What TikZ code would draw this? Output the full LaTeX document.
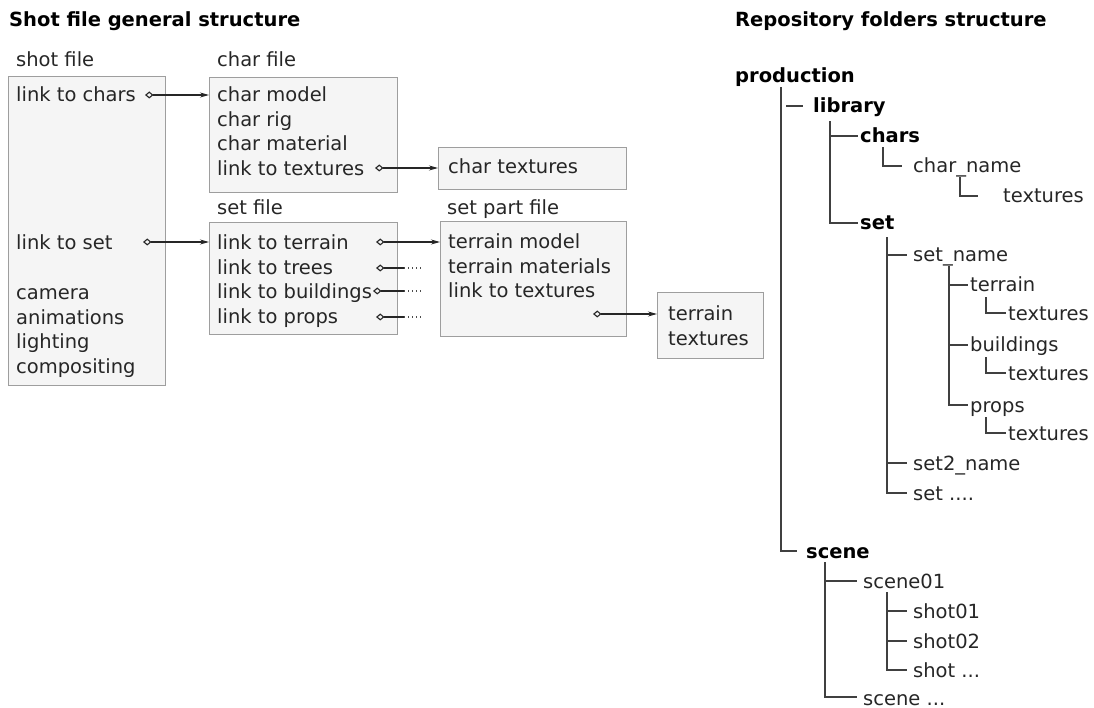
\documentclass[tikz,border=0pt]{standalone}
\usepackage{fontspec}
\setmainfont{DejaVu Sans}
\usepackage{tikz}
\usetikzlibrary{arrows.meta}
\usetikzlibrary{math}

\tikzset{
    txt/.style={anchor=west, inner sep=0pt, text height=14pt, text depth=4pt,
        text=black!85, font=\fontsize{19.5}{24}\selectfont},
    bold/.style={txt, text=black, font=\fontsize{19.5}{24}\selectfont\bfseries},
    filebox/.style={draw=black!38, fill=black!4, line width=1.2pt, anchor=north west, inner sep=0pt},
    link/.style={line width=1.1pt, black!85, {Diamond[open,length=8.5pt,width=7pt]}-{Stealth[length=9pt,width=5pt]}},
    stub/.style={line width=1.1pt, black!85, {Diamond[open,length=8.5pt,width=7pt]}-},
    dots/.style={line width=1.1pt, black!70, dash pattern=on 1.4pt off 2.6pt},
    branch/.style={line width=1.6pt, black!75},
}

\begin{document}
\begin{tikzpicture}[x=1pt, y=-1pt]
    \useasboundingbox (0,0) rectangle (1094,708);
    \tikzmath{%
        \ls = 24.4;   %% 行距
        \lx = 217;    %% 中间一列文字的左边
    };
    %% 两个标题
    \node[bold] (lefttitle) at (9,22) {Shot file general structure};
    \node[bold] (righttitle) at (735,22) {Repository folders structure};

    %% 文件框
    \node[filebox, minimum width=157pt, minimum height=309pt] (shotbox) at (8,76) {};
    \node[filebox, minimum width=188pt, minimum height=115pt] (charbox) at (209,77) {};
    \node[filebox, minimum width=188pt, minimum height=42pt] (chartexbox) at (438,147) {};
    \node[filebox, minimum width=188pt, minimum height=112pt] (setbox) at (209,222) {};
    \node[filebox, minimum width=186pt, minimum height=115pt] (partbox) at (440,221) {};
    \node[filebox, minimum width=106pt, minimum height=66pt] (terraintexbox) at (657,292) {};

    %% 框上的名字
    \node[txt] (shotlabel) at (16,62) {shot file};
    \node[txt] (charlabel) at (\lx,62) {char file};
    \node[txt] (setlabel) at (\lx,210) {set file};
    \node[txt] (partlabel) at (447,210) {set part file};

    %% shot file
    \node[txt] (lchars) at (16,97) {link to chars};
    \node[txt] (lset) at (16,245) {link to set};
    \foreach \n/\t [count=\k from 0] in {camera/camera, anim/animations, light/lighting, comp/compositing}
        \node[txt] (\n) at (16,295+\k*\ls) {\t};

    %% char file
    \foreach \n/\t [count=\k from 0] in {cmodel/char model, crig/char rig, cmat/char material, ctex/link to textures}
        \node[txt] (\n) at (\lx,97+\k*\ls) {\t};
    \node[txt] (chartex) at (448,169) {char textures};

    %% set file
    \foreach \n/\t [count=\k from 0] in {lterrain/link to terrain, ltrees/link to trees, lbuild/link to buildings, lprops/link to props}
        \node[txt] (\n) at (\lx,245+\k*\ls) {\t};

    %% set part file
    \foreach \n/\t [count=\k from 0] in {tmodel/terrain model, tmat/terrain materials, ttex/link to textures}
        \node[txt] (\n) at (448,244+\k*\ls) {\t};
    \node[txt] (tt1) at (668,315) {terrain};
    \node[txt] (tt2) at (668,340) {textures};

    %% 链接箭头
    \coordinate (dchars) at (145,95);
    \coordinate (dset) at (143,242);
    \coordinate (dctex) at (375,168);
    \coordinate (dterrain) at (376,242);
    \coordinate (dttex) at (593,314);
    \draw[link] (dchars) -- (dchars -| charbox.west);
    \draw[link] (dset) -- (dset -| setbox.west);
    \draw[link] (dctex) -- (dctex -| chartexbox.west);
    \draw[link] (dterrain) -- (dterrain -| partbox.west);
    \draw[link] (dttex) -- (dttex -| terraintexbox.west);
    \foreach \d/\x/\y in {dtrees/376/268, dbuild/373/291, dprops/376/317}{
        \coordinate (\d) at (\x,\y);
        \draw[stub] (\d) -- (404,\y) coordinate (\d-end);
        \draw[dots] (\d-end) -- ++(18,0);
    }

    %% 右边:目录树
    \node[bold] (prod) at (735,78) {production};
    \node[bold] (lib) at (813,108) {library};
    \node[bold] (chars) at (860,138) {chars};
    \node[txt] (charname) at (913,168) {char\_name};
    \node[txt] (chartexdir) at (1003,198) {textures};
    \node[bold] (set) at (860,225) {set};
    \node[txt] (setname) at (913,257) {set\_name};
    \node[txt] (terrain) at (970,287) {terrain};
    \node[txt] (terraintex) at (1008,315) {textures};
    \node[txt] (buildings) at (970,347) {buildings};
    \node[txt] (buildingstex) at (1008,375) {textures};
    \node[txt] (props) at (970,407) {props};
    \node[txt] (propstex) at (1008,435) {textures};
    \node[txt] (settwo) at (913,465) {set2\_name};
    \node[txt] (setmore) at (913,495) {set ....};
    \node[bold] (scene) at (806,553) {scene};
    \node[txt] (sceneone) at (863,583) {scene01};
    \node[txt] (shotone) at (913,613) {shot01};
    \node[txt] (shottwo) at (913,643) {shot02};
    \node[txt] (shotmore) at (913,672) {shot ...};
    \node[txt, text depth=1pt] (scenemore) at (863,699) {scene ...};

    %% 树枝
    \draw[branch] ([xshift=46pt]prod.south west) |- ([xshift=-9pt,yshift=2pt]scene.west);
    \draw[branch] ([xshift=-27pt,yshift=2pt]lib.west) -- ([xshift=-10pt,yshift=2pt]lib.west);
    \draw[branch] ([xshift=17pt,yshift=-4pt]lib.south west) |- ([xshift=-2pt,yshift=2pt]set.west);
    \draw[branch] ([xshift=17pt]lib.south west |- chars.west) ++(0,-2) -- ([xshift=-2pt,yshift=2pt]chars.west);
    \draw[branch] ([xshift=23pt]chars.south west) |- ([xshift=-11pt,yshift=2pt]charname.west);
    \draw[branch] ([xshift=47pt]charname.south west) |- ([xshift=-25pt,yshift=2pt]chartexdir.west);
    \draw[branch] ([xshift=27pt,yshift=-3pt]set.south west) |- ([xshift=-6pt,yshift=2pt]setmore.west);
    \foreach \c in {setname, settwo}
        \draw[branch] ([xshift=27pt]set.south west |- \c.west) ++(0,-2) -- ([xshift=-6pt,yshift=2pt]\c.west);
    \draw[branch] ([xshift=36pt]setname.south west) |- ([xshift=-2pt,yshift=2pt]props.west);
    \foreach \c in {terrain, buildings}
        \draw[branch] ([xshift=36pt]setname.south west |- \c.west) ++(0,-2) -- ([xshift=-2pt,yshift=2pt]\c.west);
    \foreach \p/\c in {terrain/terraintex, buildings/buildingstex, props/propstex}
        \draw[branch] ([xshift=16pt,yshift=-1pt]\p.south west) |- ([xshift=-2pt,yshift=2pt]\c.west);
    \draw[branch] ([xshift=19pt]scene.south west) |- ([xshift=-6pt,yshift=2pt]scenemore.west);
    \draw[branch] ([xshift=19pt]scene.south west |- sceneone.west) ++(0,-2) -- ([xshift=-6pt,yshift=2pt]sceneone.west);
    \draw[branch] ([xshift=24pt]sceneone.south west) |- ([xshift=-6pt,yshift=2pt]shotmore.west);
    \foreach \c in {shotone, shottwo}
        \draw[branch] ([xshift=24pt]sceneone.south west |- \c.west) ++(0,-2) -- ([xshift=-6pt,yshift=2pt]\c.west);
\end{tikzpicture}
\end{document}
